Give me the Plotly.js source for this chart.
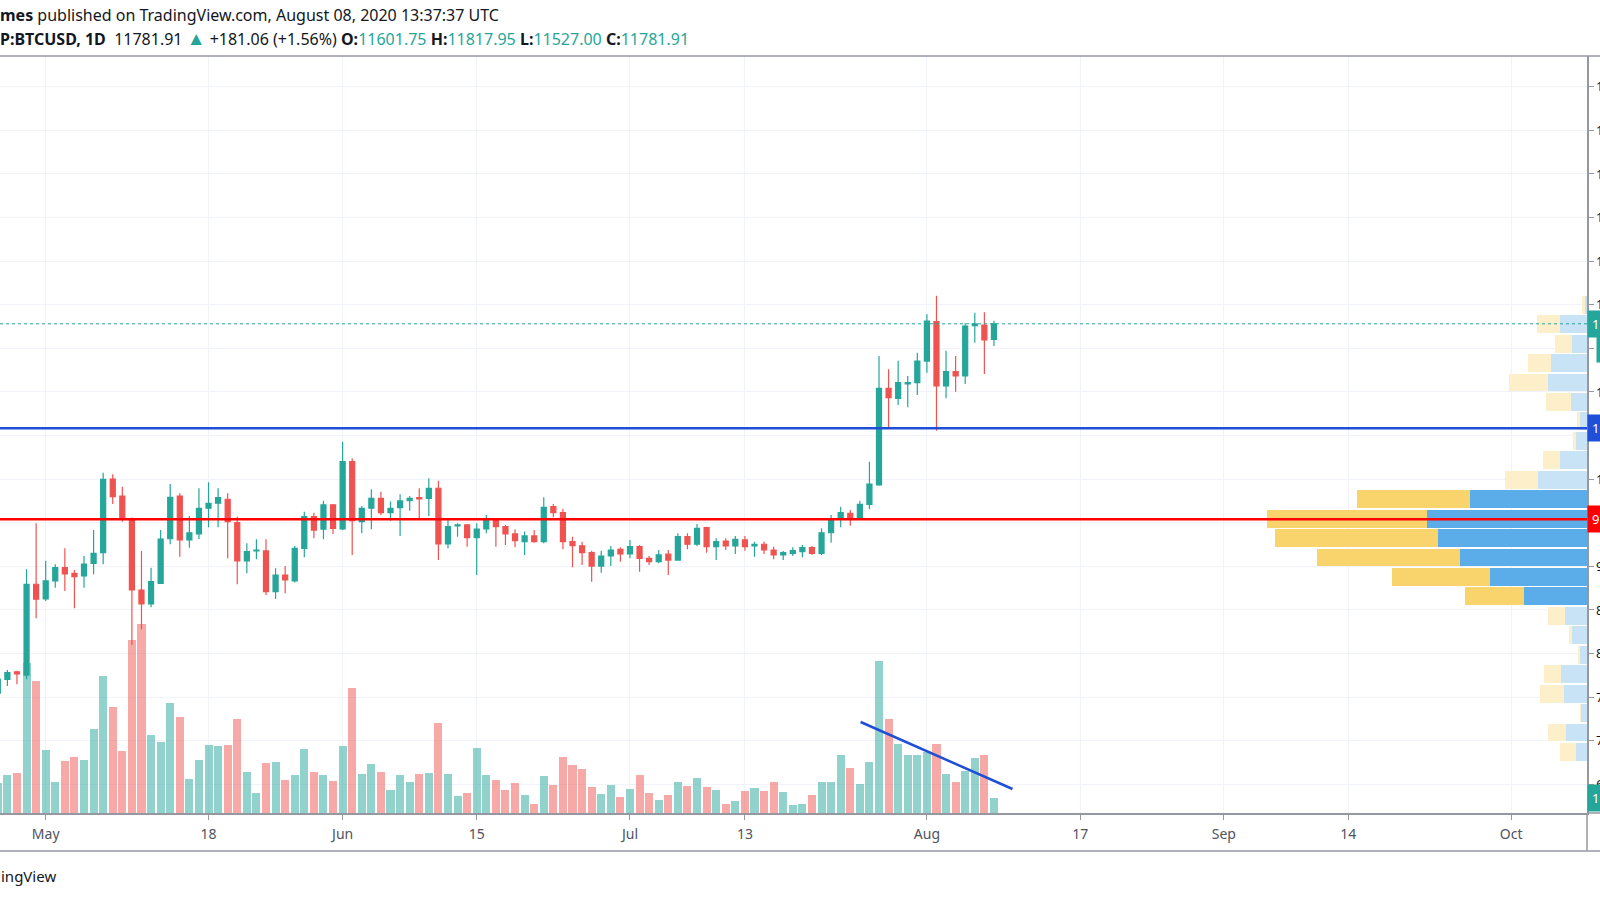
<!DOCTYPE html>
<html>
<head>
<meta charset="utf-8">
<script src="https://cdn.plot.ly/plotly-3.0.1.min.js"></script>
<style>
  html, body { margin: 0; padding: 0; background: #fff; overflow: hidden; }
  #chart { width: 1600px; height: 900px; }
</style>
</head>
<body>
<div id="chart"></div>
<script>
// BTCUSD daily candles, Apr 26 -> Aug 08 2020
const firstDay = '2020-04-26';

const open = [
    7545, 7705, 7792, 7754, 8795,
    8626, 8833, 8985, 8920, 8890, 9035, 9157, 10002, 9807, 9540, 8729, 8569, 8806, 9317, 9807, 9303,
    9372, 9667, 9724, 9770, 9501, 9062, 9177, 9177, 8711, 8901, 8833, 9207, 9570, 9426, 9705,
    9429, 10201, 9513, 9667, 9781, 9616, 9674, 9753, 9788, 9781, 9896, 9257, 9464, 9475, 9329,
    9429, 9532, 9455, 9372, 9283, 9349, 9283, 9685, 9616, 9283, 9237, 9157, 9004, 9119, 9196,
    9142, 9226, 9093, 9054, 9140, 9073, 9341, 9254, 9444, 9226, 9291, 9234, 9303, 9234, 9254,
    9188, 9131, 9150, 9169, 9215, 9150, 9386, 9540, 9609, 9544, 9712, 9934, 11042, 10927, 11092, 11107,
    11355, 11806, 11069, 11233, 11184, 11760, 11768, 11601.75,
];
const high = [
    7720, 7812, 7804, 8967, 9494,
    9066, 9024, 9207, 8959, 9119, 9416, 10075, 10056, 9914, 9560, 9177, 8985, 9416, 9944, 9838, 9578,
    9896, 9964, 9896, 9838, 9570, 9265, 9311, 9311, 8978, 9004, 9234, 9627, 9616, 9753, 9716,
    10430, 10240, 9693, 9884, 9857, 9744, 9827, 9807, 9896, 10010, 9982, 9552, 9494, 9486, 9494,
    9590, 9552, 9475, 9426, 9399, 9418, 9792, 9716, 9662, 9341, 9283, 9180, 9180, 9234, 9219,
    9303, 9245, 9119, 9188, 9188, 9380, 9380, 9486, 9455, 9322, 9322, 9349, 9349, 9283, 9283,
    9226, 9177, 9219, 9245, 9234, 9437, 9590, 9685, 9647, 9753, 10201, 11413, 11260, 11359, 11184, 11451,
    11891, 12104, 11474, 11413, 11788, 11909, 11914, 11817.95,
];
const low = [
    7500, 7628, 7648, 7705, 8405,
    8603, 8756, 8718, 8520, 8756, 8909, 9024, 9716, 9513, 8099, 8279, 8531, 8797, 9254, 9111, 9214,
    9314, 9448, 9448, 9093, 8795, 8921, 9082, 8672, 8626, 8691, 8814, 9104, 9323, 9311, 9372,
    9418, 9131, 9380, 9426, 9590, 9524, 9349, 9639, 9552, 9578, 9074, 9207, 9341, 9226, 8901,
    9380, 9226, 9245, 9219, 9131, 9272, 9265, 9563, 9196, 8990, 9016, 8825, 8928, 9004, 9054,
    9093, 8939, 9016, 9035, 8901, 9065, 9196, 9234, 9157, 9073, 9188, 9142, 9180, 9111, 9142,
    9082, 9073, 9119, 9104, 9131, 9131, 9272, 9448, 9467, 9532, 9655, 9926, 10584, 10851, 10825, 10966,
    11221, 10556, 10927, 11004, 11092, 11565, 11206, 11527.00,
];
const close = [
    7705, 7781, 7766, 8795, 8623,
    8833, 8985, 8913, 8882, 9027, 9150, 9999, 9800, 9540, 8729, 8569, 8825, 9314, 9792, 9303, 9386,
    9667, 9724, 9788, 9513, 9062, 9169, 9188, 8711, 8901, 8844, 9207, 9570, 9417, 9705, 9437,
    10201, 9524, 9667, 9781, 9616, 9667, 9751, 9781, 9773, 9896, 9257, 9455, 9475, 9329, 9429,
    9532, 9455, 9372, 9295, 9349, 9283, 9678, 9616, 9283, 9237, 9157, 9004, 9119, 9188, 9142,
    9226, 9093, 9054, 9131, 9073, 9341, 9254, 9437, 9226, 9283, 9234, 9311, 9226, 9254, 9188,
    9131, 9157, 9180, 9215, 9150, 9386, 9540, 9616, 9544, 9712, 9944, 11042, 10935, 11107, 11107, 11355,
    11814, 11069, 11233, 11184, 11757, 11780, 11596, 11781.91,
];

// daily volume, BTC
const volume = [
    3000, 3800, 4000, 15000, 13200,
    6300, 3100, 5200, 5600, 5300, 8400, 13700, 10600, 6200, 17300, 18900, 7800, 7100, 11000, 9600, 3400,
    5300, 6800, 6700, 6800, 9400, 4100, 2000, 5000, 5100, 3300, 3800, 6400, 4100, 3800, 3200,
    6700, 12500, 3900, 4900, 4100, 2300, 3800, 3100, 3900, 4000, 9000, 3900, 1700, 2000, 6500,
    3800, 3300, 2300, 3000, 1800, 900, 3700, 2800, 5600, 4800, 4400, 2600, 1900, 2800, 1600,
    2400, 3800, 2000, 1300, 1800, 3100, 2700, 3500, 2600, 2300, 900, 1200, 2200, 2500, 2200,
    3100, 2100, 800, 900, 1800, 3100, 3100, 5800, 4500, 2900, 5100, 15200, 9400, 6900, 5800, 5800,
    6100, 6900, 3900, 3100, 4200, 5500, 5800, 1500,
];

// volume profile (visible range), rows from top to bottom
const vpPrice = [
    12001, 11778, 11555, 11332, 11109, 10886, 10663, 10440, 10217, 9994, 9771, 9548,
    9325, 9102, 8879, 8656, 8433, 8210, 7987, 7764, 7541, 7318, 7095, 6872,
];
const vpUp = [
    200, 2670, 1500, 3570, 3900, 1600, 740, 1070, 2670, 4870, 11670, 15970,
    14870, 12700, 9670, 6340, 2170, 1470, 740, 2570, 2340, 600, 2100, 1140,
];
const vpDown = [
    270, 2300, 1670, 2300, 3900, 2470, 260, 300, 1700, 3300, 11300, 16000,
    16330, 14270, 9830, 5900, 1770, 300, 200, 1700, 2330, 140, 1800, 1560,
];
const vpValueArea = [
    0, 0, 0, 0, 0, 0, 0, 0, 0, 0, 1, 1,
    1, 1, 1, 1, 0, 0, 0, 0, 0, 0, 0, 0,
];

// drawn levels
const blueLevel = 10585;
const redLevel = 9540;
const lastClose = 11781.91;
const volTrendX = ['2020-07-25 02:00', '2020-08-09 22:30'];
const volTrendY = [9100, 2400];

const tickDates = ['2020-05-01', '2020-05-18', '2020-06-01', '2020-06-15', '2020-07-01', '2020-07-13',
    '2020-08-01', '2020-08-17', '2020-09-01', '2020-09-14', '2020-10-01'];
const tickLabels = ['May', '18', 'Jun', '15', 'Jul', '13', 'Aug', '17', 'Sep', '14', 'Oct'];

const dates = [];
const d0 = new Date(firstDay + 'T00:00:00Z');
for (let i = 0; i < close.length; i++) {
    const d = new Date(d0.getTime() + i * 86400000);
    dates.push(d.toISOString().slice(0, 10));
}

const UP = '#26A69A';
const DOWN = '#EF5350';
const FONT = 'Noto Sans, Open Sans, sans-serif';

const volColors = close.map((c, i) => (c >= open[i] ? 'rgba(38,166,154,0.5)' : 'rgba(239,83,80,0.5)'));

const volTrace = {
    type: 'bar',
    x: dates,
    y: volume,
    width: 0.84 * 86400000,
    marker: { color: volColors, line: { width: 0 } },
    xaxis: 'x',
    yaxis: 'y',
    hoverinfo: 'skip',
};

const candles = {
    type: 'candlestick',
    x: dates,
    open: open,
    high: high,
    low: low,
    close: close,
    increasing: { line: { color: UP, width: 1.2 }, fillcolor: UP },
    decreasing: { line: { color: DOWN, width: 1.2 }, fillcolor: DOWN },
    xaxis: 'x',
    yaxis: 'y2',
    hoverinfo: 'skip',
};

const vpUpTrace = {
    type: 'bar',
    orientation: 'h',
    y: vpPrice,
    x: vpUp,
    width: 205,
    marker: { color: vpValueArea.map(v => (v ? '#5BADE9' : '#C8E3F6')), line: { width: 0 } },
    xaxis: 'x2',
    yaxis: 'y2',
    hoverinfo: 'skip',
};
const vpDownTrace = {
    type: 'bar',
    orientation: 'h',
    y: vpPrice,
    x: vpDown,
    width: 205,
    marker: { color: vpValueArea.map(v => (v ? '#F9D46C' : '#FDEFCA')), line: { width: 0 } },
    xaxis: 'x2',
    yaxis: 'y2',
    hoverinfo: 'skip',
};

// pixel helpers for things drawn outside the plot box (plot: y 56..813)
const pyPaper = px => (813 - px) / 757;
const pxPaper = px => px / 1587;
const frame = '#9598A1';

const layout = {
    width: 1600,
    height: 900,
    margin: { l: 0, r: 13, t: 56, b: 87 },
    paper_bgcolor: '#ffffff',
    plot_bgcolor: '#ffffff',
    showlegend: false,
    hovermode: false,
    barmode: 'stack',
    boxgap: 0.25,
    font: { family: FONT, color: '#131722' },
    xaxis: {
        type: 'date',
        range: ['2020-04-26 05:30', '2020-10-08 22:00'],
        tickvals: tickDates,
        ticktext: tickLabels,
        ticks: 'outside',
        ticklen: 5,
        tickcolor: frame,
        showline: true,
        linecolor: frame,
        linewidth: 1.5,
        showgrid: true,
        gridcolor: '#F0F3FA',
        zeroline: false,
        tickfont: { family: FONT, size: 14, color: '#50535E' },
        ticklabelstandoff: 3,
        rangeslider: { visible: false },
        fixedrange: true,
    },
    xaxis2: {
        overlaying: 'x',
        anchor: 'y2',
        range: [158700, 0],
        visible: false,
        fixedrange: true,
    },
    yaxis: {
        range: [0, 75700],
        visible: false,
        fixedrange: true,
    },
    yaxis2: {
        overlaying: 'y',
        side: 'right',
        anchor: 'x',
        range: [6172, 14853],
        tick0: 0,
        dtick: 500,
        ticks: 'outside',
        ticklen: 5,
        tickcolor: frame,
        showline: true,
        linecolor: frame,
        linewidth: 1.5,
        showgrid: true,
        gridcolor: '#F0F3FA',
        zeroline: false,
        tickfont: { family: FONT, size: 13, color: '#131722' },
        fixedrange: true,
    },
    shapes: [
        // horizontal levels
        { type: 'line', xref: 'paper', yref: 'y2', x0: 0, x1: 1, y0: redLevel, y1: redLevel,
          line: { color: '#FF0000', width: 2.5 }, layer: 'above' },
        { type: 'line', xref: 'paper', yref: 'y2', x0: 0, x1: 1, y0: blueLevel, y1: blueLevel,
          line: { color: '#1E4FD6', width: 2.5 }, layer: 'above' },
        { type: 'line', xref: 'paper', yref: 'y2', x0: 0, x1: 1, y0: lastClose, y1: lastClose,
          line: { color: UP, width: 1, dash: 'dot' }, layer: 'above' },
        // trend line on volume
        { type: 'line', xref: 'x', yref: 'y', x0: volTrendX[0], x1: volTrendX[1], y0: volTrendY[0], y1: volTrendY[1],
          line: { color: '#1E4FD6', width: 2.5 }, layer: 'above' },
        // frame
        { type: 'line', xref: 'paper', yref: 'paper', x0: 0, x1: pxPaper(1600), y0: 1, y1: 1,
          line: { color: frame, width: 1.5 } },
        { type: 'line', xref: 'paper', yref: 'paper', x0: 0, x1: pxPaper(1600), y0: pyPaper(851), y1: pyPaper(851),
          line: { color: frame, width: 1.5 } },
        { type: 'line', xref: 'paper', yref: 'paper', x0: 1, x1: pxPaper(1600), y0: 0, y1: 0,
          line: { color: frame, width: 1.5 } },
        { type: 'line', xref: 'paper', yref: 'paper', x0: 1, x1: 1, y0: pyPaper(851), y1: 0,
          line: { color: frame, width: 1.5 } },
    ],
    annotations: [
        {
            xref: 'paper', yref: 'paper', x: 0, y: pyPaper(15), xanchor: 'left', yanchor: 'middle', xshift: -2,
            showarrow: false, align: 'left',
            text: '<b>mes</b> published on TradingView.com, August 08, 2020 13:37:37 UTC',
            font: { family: FONT, size: 16, color: '#131722' },
        },
        {
            xref: 'paper', yref: 'paper', x: 0, y: pyPaper(38), xanchor: 'left', yanchor: 'middle', xshift: -2,
            showarrow: false, align: 'left',
            text: '<b>P:BTCUSD, 1D</b>  11781.91 <span style="color:#26A69A;font-size:19px">▲</span> +181.06 (+1.56%) ' +
                '<b>O:</b><span style="color:#26A69A">11601.75</span> ' +
                '<b>H:</b><span style="color:#26A69A">11817.95</span> ' +
                '<b>L:</b><span style="color:#26A69A">11527.00</span> ' +
                '<b>C:</b><span style="color:#26A69A">11781.91</span>',
            font: { family: FONT, size: 16, color: '#131722' },
        },
        {
            xref: 'paper', yref: 'paper', x: 0, y: pyPaper(876), xanchor: 'left', yanchor: 'middle', xshift: -1,
            showarrow: false, text: 'ingView',
            font: { family: FONT, size: 15, color: '#131722' },
        },
        // price-scale labels (cut by the right edge)
        {
            xref: 'paper', yref: 'y2', x: 1, y: lastClose, xanchor: 'left', yanchor: 'middle',
            showarrow: false, text: '11781.91', bgcolor: UP, borderpad: 4,
            font: { family: FONT, size: 13, color: '#ffffff' },
        },
        {
            xref: 'paper', yref: 'y2', x: 1, y: lastClose, xanchor: 'left', yanchor: 'middle', xshift: 9, yshift: -25,
            showarrow: false, text: '10:22:22', bgcolor: UP, borderpad: 4,
            font: { family: FONT, size: 13, color: '#ffffff' },
        },
        {
            xref: 'paper', yref: 'y2', x: 1, y: blueLevel, xanchor: 'left', yanchor: 'middle',
            showarrow: false, text: '10585.00', bgcolor: '#1E4FD6', borderpad: 4,
            font: { family: FONT, size: 13, color: '#ffffff' },
        },
        {
            xref: 'paper', yref: 'y2', x: 1, y: redLevel, xanchor: 'left', yanchor: 'middle',
            showarrow: false, text: '9540.00', bgcolor: '#FF0000', borderpad: 4,
            font: { family: FONT, size: 13, color: '#ffffff' },
        },
        {
            xref: 'paper', yref: 'y', x: 1, y: volume[volume.length - 1], xanchor: 'left', yanchor: 'middle',
            showarrow: false, text: '1.5K', bgcolor: UP, borderpad: 4,
            font: { family: FONT, size: 13, color: '#ffffff' },
        },
    ],
};

Plotly.newPlot('chart', [volTrace, vpUpTrace, vpDownTrace, candles], layout, { displayModeBar: false, staticPlot: true });
</script>
</body>
</html>
